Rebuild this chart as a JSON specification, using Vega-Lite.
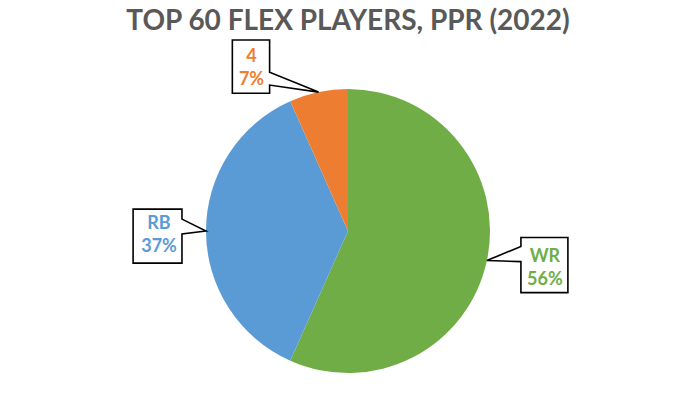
{
  "$schema": "https://vega.github.io/schema/vega-lite/v6.json",
  "width": 692,
  "height": 390,
  "padding": {"left": 2, "right": 0, "top": 8, "bottom": 0},
  "title": {"text": "TOP 60 FLEX PLAYERS, PPR (2022)", "font": "Lato", "fontSize": 28, "fontWeight": "bold", "color": "#595959", "anchor": "middle", "offset": 0},
  "config": {"view": {"stroke": null}},
  "data": {"values": [
    {"position": "WR", "players": 34, "pct": 56},
    {"position": "RB", "players": 22, "pct": 37},
    {"position": "4", "players": 4, "pct": 7}
  ]},
  "transform": [
    {"stack": "players", "groupby": [], "sort": [{"field": "players", "order": "descending"}], "as": ["s0", "s1"]},
    {"joinaggregate": [{"op": "sum", "field": "players", "as": "total"}]},
    {"calculate": "PI * (datum.s0 + datum.s1) / datum.total", "as": "ang"},
    {"calculate": "sin(datum.ang)", "as": "px"},
    {"calculate": "cos(datum.ang)", "as": "py"},
    {"calculate": "datum.position + '\\n' + datum.pct + '%'", "as": "label"}
  ],
  "layer": [
    {
      "mark": {"type": "arc", "radius": 142},
      "encoding": {
        "theta": {"field": "s0", "type": "quantitative", "scale": {"domain": [0, 60]}},
        "theta2": {"field": "s1"},
        "color": {"field": "position", "type": "nominal", "scale": {"domain": ["WR", "RB", "4"], "range": ["#70AD47", "#5B9BD5", "#ED7D31"]}, "legend": null}
      }
    },
    {
      "mark": {"type": "point", "filled": true, "fill": "white", "stroke": "black", "strokeWidth": 1.6, "size": 2916, "opacity": 1},
      "encoding": {
        "x": {"field": "px", "type": "quantitative", "scale": {"domain": [-2.43662, 2.43662]}, "axis": null},
        "y": {"field": "py", "type": "quantitative", "scale": {"domain": [-1.37324, 1.37324]}, "axis": null},
        "shape": {"field": "position", "type": "nominal", "legend": null, "scale": {"domain": ["WR", "RB", "4"], "range": [
          "M0,0L1.26,-0.52V-0.85H3V1.19H1.26V0.04Z",
          "M0,0L-0.89,0.11V1.19H-2.7V-0.81H-0.89V-0.44Z",
          "M0,0L-1.81,-0.26V0.04H-3.19V-1.93H-1.81V-0.74Z"
        ]}}
      }
    },
    {
      "transform": [{"filter": "datum.position == 'WR'"}],
      "mark": {"type": "text", "font": "Lato", "fontSize": 18, "fontWeight": "bold", "lineBreak": "\n", "lineHeight": 23, "dx": 58, "dy": -3.5, "align": "center", "baseline": "middle"},
      "encoding": {
        "x": {"field": "px", "type": "quantitative", "scale": {"domain": [-2.43662, 2.43662]}, "axis": null},
        "y": {"field": "py", "type": "quantitative", "scale": {"domain": [-1.37324, 1.37324]}, "axis": null},
        "text": {"field": "label"},
        "color": {"field": "position", "type": "nominal", "scale": {"domain": ["WR", "RB", "4"], "range": ["#70AD47", "#5B9BD5", "#ED7D31"]}, "legend": null}}
    },
    {
      "transform": [{"filter": "datum.position == 'RB'"}],
      "mark": {"type": "text", "font": "Lato", "fontSize": 18, "fontWeight": "bold", "lineBreak": "\n", "lineHeight": 23, "dx": -47, "dy": -7.5, "align": "center", "baseline": "middle"},
      "encoding": {
        "x": {"field": "px", "type": "quantitative", "scale": {"domain": [-2.43662, 2.43662]}, "axis": null},
        "y": {"field": "py", "type": "quantitative", "scale": {"domain": [-1.37324, 1.37324]}, "axis": null},
        "text": {"field": "label"},
        "color": {"field": "position", "type": "nominal", "scale": {"domain": ["WR", "RB", "4"], "range": ["#70AD47", "#5B9BD5", "#ED7D31"]}, "legend": null}}
    },
    {
      "transform": [{"filter": "datum.position == '4'"}],
      "mark": {"type": "text", "font": "Lato", "fontSize": 18, "fontWeight": "bold", "lineBreak": "\n", "lineHeight": 23, "dx": -67, "dy": -35.5, "align": "center", "baseline": "middle"},
      "encoding": {
        "x": {"field": "px", "type": "quantitative", "scale": {"domain": [-2.43662, 2.43662]}, "axis": null},
        "y": {"field": "py", "type": "quantitative", "scale": {"domain": [-1.37324, 1.37324]}, "axis": null},
        "text": {"field": "label"},
        "color": {"field": "position", "type": "nominal", "scale": {"domain": ["WR", "RB", "4"], "range": ["#70AD47", "#5B9BD5", "#ED7D31"]}, "legend": null}}
    }
  ]
}
